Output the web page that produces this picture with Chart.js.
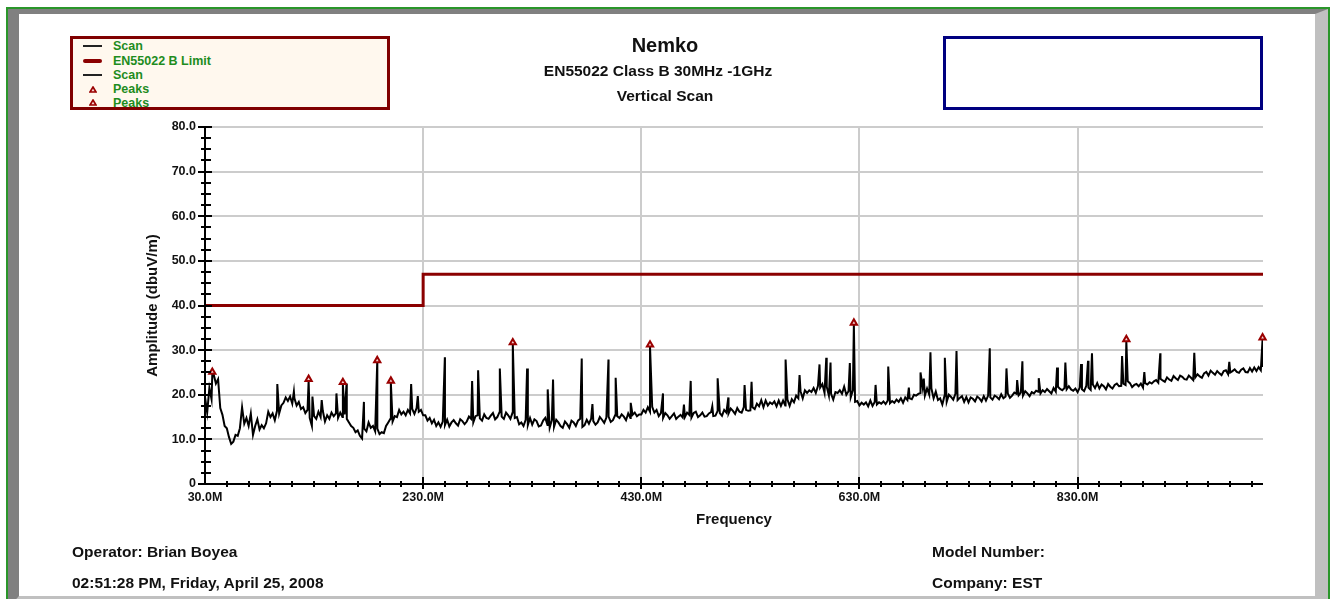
<!DOCTYPE html>
<html>
<head>
<meta charset="utf-8">
<script src="https://cdn.jsdelivr.net/npm/chart.js@4.4.1/dist/chart.umd.min.js"></script>
<style>
html,body{margin:0;padding:0;width:1337px;height:599px;overflow:hidden;background:#fff;font-family:"Liberation Sans",Arial,sans-serif;}
#frame{position:absolute;left:6px;top:7px;width:1320px;height:620px;border:2px solid #2a962a;z-index:0;}
#inner{position:absolute;left:0;top:0;width:1296px;height:582px;border-style:solid;border-width:5px 13px 12px 11px;border-color:#808080 #c0c0c0 #c0c0c0 #808080;background:#fff;}
#c{position:absolute;left:0;top:0;z-index:2;}
.t{position:absolute;z-index:3;font-weight:bold;white-space:nowrap;color:#111;}
#legend{position:absolute;left:70px;top:36px;width:314px;height:68px;border:3px solid #800000;background:#fff8ee;z-index:3;}
#bluebox{position:absolute;left:943px;top:36px;width:314px;height:68px;border:3px solid #000080;background:#fff;z-index:3;}
.lg{position:absolute;z-index:4;font-weight:bold;font-size:12.5px;line-height:14px;height:14px;color:#1e8c1e;white-space:nowrap;}
.sym{position:absolute;z-index:4;line-height:0;}
.sym svg{display:block;}
</style>
</head>
<body>
<div id="frame"><div id="inner"></div></div>
<div id="legend"></div>
<div id="bluebox"></div>
<div class="t" style="left:465px;width:400px;text-align:center;top:34px;font-size:20px;line-height:22px;">Nemko</div>
<div class="t" style="left:458px;width:400px;text-align:center;top:61px;font-size:15.5px;line-height:20px;">EN55022 Class B 30MHz -1GHz</div>
<div class="t" style="left:465px;width:400px;text-align:center;top:86px;font-size:15.5px;line-height:20px;">Vertical Scan</div>
<div class="t" style="left:72px;top:542px;font-size:15.5px;line-height:20px;">Operator: Brian Boyea</div>
<div class="t" style="left:72px;top:573px;font-size:15.5px;line-height:20px;">02:51:28 PM, Friday, April 25, 2008</div>
<div class="t" style="left:932px;top:542px;font-size:15.5px;line-height:20px;">Model Number:</div>
<div class="t" style="left:932px;top:573px;font-size:15.5px;line-height:20px;">Company: EST</div>
<canvas id="c" width="1337" height="599"></canvas>
<script>
// ---------- DATA ----------
const scanStartMHz = 30;
const scanStepMHz = 2;
// Scan amplitude (dBuV/m), one value every 2 MHz from 30 to 1000 MHz
const scanBase = [
19.5,16,21.5,19,24.5,22.5,23.5,17,15.5,13,
12.5,10.5,9,9.5,11,10.8,12.5,17.2,13.5,14.8,
13,15.8,11,13,14.5,12.2,13.2,12.5,13.6,16.2,
15,15.8,14.3,16.4,15.8,17.6,18.2,19.4,18.6,19.6,
18,19.2,17.6,18.4,16.8,17.2,15.9,16.6,14.8,13,
15.2,14.6,16.2,15,16.4,14,15.4,14.6,16,15.2,
15.8,14.8,16,15,15.6,14.6,13.8,13,12.6,11.6,
12,10.8,10.2,12.4,11.8,13.8,12.6,13,11.8,12.4,
11.2,11.6,11.4,13,13.8,14.6,14,15.2,15,16.6,
15.6,16.2,15.4,16.6,15.8,16.8,15.7,17,16.2,16.6,
15.4,15.4,14.2,14.8,13.6,14.4,13,13.8,12.8,14,
13.2,14.4,12.9,13.8,14.3,13.6,13.1,14.5,14.1,13.4,
14,15.1,14.6,13.8,15.2,15.4,14.7,14.2,15.6,14.8,
14.6,15.3,15.9,14.5,15,16.1,15.1,14.6,16,15.4,
14.6,16,14.8,15,13.4,13.8,13,14.4,13.2,14.8,
13.3,14.5,14.1,12.9,13.1,14.2,14.8,13.2,12.6,14.3,
12.8,14.4,13.8,13,12.6,14,13.4,12.6,14.2,13.8,
13,14.2,14.6,12.8,13.2,14.4,13.5,14.6,14.1,13.3,
13.8,15,14.4,13.7,14.9,15.1,13.9,14.3,15.4,15.2,
14.8,15.6,15.1,14.3,15.8,14.8,15.5,16,15.2,15.6,
15.6,16.6,16,17.2,16.2,17.3,16,16.6,15.2,15.9,
14.8,15.9,15.4,14.6,15.2,15.8,14.6,15.1,15.5,14.9,
15,16,15.5,14.9,15.9,16.2,15,15.4,16,15.1,
15.2,15.8,16.1,15.2,15.3,16.4,15.9,15.3,16.6,16,
15.8,16.9,16.4,15.7,17,16.2,16,17.2,16.6,16.4,
16.5,17.2,16.8,18,17.4,18.8,17.2,18.7,17.6,18.3,
17.9,18.5,17.4,18.7,17.5,18.7,17.6,18.9,17.5,19,
18.3,19.8,19.2,20.8,19.2,21,20.4,21,20.6,21.5,
20.4,22,21.6,22.4,20.4,21.8,19.8,20.2,18.9,20.6,
20.4,21,20.2,21.8,20,20.8,19.4,21,18.4,18.6,
17.6,18.2,17.8,18.3,17.4,18.7,17.5,18.4,17.8,18.3,
18,18.5,17.9,18.7,18.1,18.6,18.2,18.9,18.4,19.2,
18.2,19.4,18.8,19.2,19,20,19.8,20.2,20.4,21.6,
19.8,21.4,20,21.4,19.2,20.7,18.8,19.2,17.8,19.8,
18.4,20,19.5,18.9,20.2,18.8,19.3,19.7,18.4,19.5,
18.3,19.4,19.1,18.5,19.6,19.2,18.5,19.7,18.7,19.8,
19.4,18.9,19.8,19.5,19,20.1,19.2,19.6,20.3,19.3,
19.8,20.5,20.2,19.9,20.5,19.8,20.8,20.3,19.7,20.6,
20.3,20.9,20.7,20.3,21,20.6,21.3,20.8,20.3,21.5,
20.7,21.8,21.3,21,21.5,21.2,21.9,21.2,20.9,21.4,
20.6,21.6,21.2,20.8,22,21.6,21.1,22.3,21.5,22.6,
21.4,22.3,21.9,21.2,22.4,21.8,21.4,22.2,22.5,21.9,
22,22.5,22.2,23,22.6,21.7,22.2,22.4,21.9,22.5,
21.6,22.6,22.3,22.8,22.5,23,23.3,22.7,23.6,23.2,
22.9,23.9,23.4,23.1,24.2,23.7,23.3,24.3,24,23.5,
23.4,24.3,23.8,23.3,23.9,24.6,24.1,23.8,24.8,25.1,
24.3,25.4,24.9,24.5,25.3,24.8,24.4,25.3,25.5,24.6,
25,25.3,25.7,25.1,24.9,25.6,25.9,25.1,25,26,
25.2,26.1,25.3,26.2,25.5,26.2
];
// Narrow emission spikes in the scan (MHz, dBuV/m)
const spikeFreqs = [36.7,96.3,111.5,125.0,128.5,137.0,150.5,156.4,159.8,175.7,187.9,200.4,219.0,225.1,249.9,274.9,280.4,300.3,312.2,325.3,344.2,349.1,375.4,385.2,399.9,406.5,420.3,438.0,449.9,469.1,475.3,495.1,500.0,509.8,524.7,531.1,562.3,575.1,593.4,599.6,603.5,621.2,624.9,644.8,656.4,675.3,686.0,689.0,695.1,708.3,719.0,749.5,764.8,774.6,779.4,794.4,811.2,818.8,833.2,839.6,843.2,870.8,874.7,891.2,905.8,937.0,969.1,999.6];
const spikeValues = [24.7,22.4,20.7,23.1,19.6,18.8,20.3,22.4,22.5,18.4,27.3,22.7,22.4,19.7,28.4,23.1,25.5,25.9,31.3,25.9,21.2,23.4,28.1,17.9,27.9,23.8,18.2,30.8,20.3,17.8,23.1,17.4,23.7,19.4,22.2,22.9,27.9,24.4,26.8,28.3,27.2,27.1,35.7,22.2,26.3,21.6,25.0,23.6,29.5,28.3,29.8,30.4,25.9,23.3,27.5,23.7,26.1,27.2,26.9,27.6,29.3,28.7,32.0,25.1,29.3,29.4,27.4,32.4];
// Peak markers
const peakFreqs = [36.7,125.0,156.4,187.9,200.4,312.2,438.0,624.9,874.7,999.6];
const peakValues = [25.1,23.5,22.8,27.7,23.1,31.7,31.2,36.1,32.4,32.8];
// EN55022 Class B limit
const limitFreqs = [30,230,230,1000];
const limitValues = [40,40,47,47];
// Axis ticks
const xMajorTicks = [30,230,430,630,830];
const xMinorStep = 20;
const yMajorTicks = [0,10,20,30,40,50,60,70,80];
const yMinorStep = 2.5;
// Legend
const legendLabels = ['Scan','EN55022 B Limit','Scan','Peaks','Peaks'];
const legendKinds = ['scan','limit','scan','peak','peak'];

// ---------- LEGEND ----------
const legendRowY = [45.7,60.6,74.9,89,102.5];
legendLabels.forEach((lab,i)=>{
  const cy = legendRowY[i];
  const t = document.createElement('div');
  t.className='lg'; t.textContent=lab;
  t.style.left='113px'; t.style.top=(cy-7)+'px';
  document.body.appendChild(t);
  const s = document.createElement('div');
  s.className='sym';
  const k = legendKinds[i];
  if(k==='scan'){ s.style.cssText+='left:83px;width:19px;height:2px;background:#222;top:'+Math.round(cy-1)+'px;'; }
  else if(k==='limit'){ s.style.cssText+='left:83px;width:19px;height:4px;border-radius:2px;background:#8b0000;top:'+Math.round(cy-2)+'px;'; }
  else { s.innerHTML='<svg width="8" height="7"><polygon points="4,1 7,6 1,6" fill="#f6d2d2" stroke="#9a0000" stroke-width="1.6"/></svg>'; s.style.cssText+='left:89px;top:'+Math.round(cy-3.5)+'px;width:8px;height:7px;'; }
  document.body.appendChild(s);
});

// ---------- CHART ----------
const scanPts = scanBase.map((v,i)=>({x:scanStartMHz+i*scanStepMHz,y:v}));
spikeFreqs.forEach((f,i)=>scanPts.push({x:f,y:spikeValues[i]}));
scanPts.sort((a,b)=>a.x-b.x);
const limitPts = limitFreqs.map((f,i)=>({x:f,y:limitValues[i]}));
const peakPts = peakFreqs.map((f,i)=>({x:f,y:peakValues[i]}));

const FONT = '"Liberation Sans", Arial, sans-serif';

const axisPlugin = {
  id:'axesDraw',
  afterDraw(chart){
    const {ctx, chartArea:a, scales:{x,y}} = chart;
    ctx.save();
    ctx.strokeStyle='#000'; ctx.lineWidth=2; ctx.lineCap='butt';
    ctx.beginPath();
    ctx.moveTo(a.left, y.getPixelForValue(80)-1); ctx.lineTo(a.left, y.getPixelForValue(0)+1);
    ctx.moveTo(a.left-1, a.bottom); ctx.lineTo(a.right, a.bottom);
    for(let v=0; v<=80; v+=yMinorStep){
      const py = Math.round(y.getPixelForValue(v));
      const major = yMajorTicks.includes(v);
      ctx.moveTo(a.left-(major?7:4), py); ctx.lineTo(a.left+(major?7:6), py);
    }
    for(let f=xMajorTicks[0]+xMinorStep; f<1000; f+=xMinorStep){
      const px = Math.round(x.getPixelForValue(f));
      const major = xMajorTicks.includes(f);
      ctx.moveTo(px, a.bottom-(major?7:3)); ctx.lineTo(px, a.bottom+(major?5:3));
    }
    ctx.stroke();
    ctx.restore();
  }
};

new Chart(document.getElementById('c'), {
  type:'line',
  data:{datasets:[
    {label:'Peaks', data:peakPts, showLine:false, pointStyle:'triangle', pointRadius:3.6, pointBorderWidth:2, pointBorderColor:'#9a0000', pointBackgroundColor:'#f6d2d2', borderColor:'#9a0000', backgroundColor:'#f6d2d2', clip:false, order:0},
    {label:'EN55022 B Limit', data:limitPts, borderColor:'#8b0000', borderWidth:3, pointRadius:0, tension:0, fill:false, order:1},
    {label:'Scan', data:scanPts, borderColor:'#000', borderWidth:2, pointRadius:0, tension:0, fill:false, borderJoinStyle:'miter', order:2}
  ]},
  options:{
    responsive:false, animation:false, devicePixelRatio:1,
    layout:{padding:{left:140,right:74,top:127,bottom:66}},
    plugins:{legend:{display:false}, tooltip:{enabled:false}},
    scales:{
      x:{type:'linear', min:30, max:1000,
        afterBuildTicks:s=>{s.ticks = xMajorTicks.map(v=>({value:v}));},
        afterFit:s=>{s.height=49;},
        ticks:{callback:v=>Number(v).toFixed(1)+'M', font:{family:FONT,size:12.5,weight:'bold'}, color:'#111', padding:6, maxRotation:0, autoSkip:false},
        grid:{color:'#cccccc', lineWidth:2, drawTicks:false},
        border:{display:false},
        title:{display:true, text:'Frequency', font:{family:FONT,size:15,weight:'bold'}, color:'#111', padding:{top:4,bottom:4}}
      },
      y:{min:0, max:80,
        afterBuildTicks:s=>{s.ticks = yMajorTicks.map(v=>({value:v}));},
        afterFit:s=>{s.width=65;},
        ticks:{callback:v=>(v===0?'0':Number(v).toFixed(1)), font:{family:FONT,size:12.5,weight:'bold'}, color:'#111', padding:9},
        grid:{color:'#cccccc', lineWidth:2, drawTicks:false},
        border:{display:false},
        title:{display:true, text:'Amplitude (dbuV/m)', font:{family:FONT,size:15,weight:'bold'}, color:'#111', padding:{top:4,bottom:4}}
      }
    }
  },
  plugins:[axisPlugin]
});
</script>
</body>
</html>
